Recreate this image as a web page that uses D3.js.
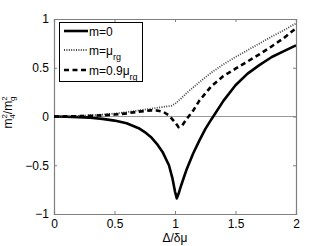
<!DOCTYPE html>
<html><head><meta charset="utf-8">
<script src="https://cdn.jsdelivr.net/npm/d3@7"></script>
<style>
body{margin:0;background:#fff;}
svg{display:block;font-family:"Liberation Sans",Arial,Helvetica,sans-serif;}
</style></head>
<body><svg id="c" width="327" height="246"></svg>
<script>
const xTicks = [0, 0.5, 1, 1.5, 2];
const yTicks = [-1, -0.5, 0, 0.5, 1];
const xTickLabels = ["0", "0.5", "1", "1.5", "2"];
const yTickLabels = ["\u22121", "\u22120.5", "0", "0.5", "1"];

const x0 = [0,0.1,0.2,0.3,0.4,0.5,0.6,0.7,0.75,0.8,0.85,0.9,0.95,0.98,1.0,1.015,1.03,1.05,1.08,1.1,1.15,1.2,1.25,1.3,1.4,1.5,1.6,1.7,1.8,1.9,2.0];
const y0 = [0,-0.002,-0.006,-0.012,-0.024,-0.042,-0.07,-0.12,-0.16,-0.21,-0.28,-0.37,-0.5,-0.64,-0.77,-0.84,-0.79,-0.71,-0.6,-0.53,-0.38,-0.25,-0.13,-0.03,0.16,0.32,0.44,0.53,0.61,0.67,0.73];

const x1 = [0,0.1,0.2,0.3,0.4,0.5,0.6,0.7,0.8,0.9,0.97,1.0,1.05,1.1,1.2,1.3,1.4,1.5,1.6,1.7,1.8,1.9,2.0];
const y1 = [0,0.002,0.006,0.012,0.02,0.03,0.045,0.062,0.08,0.098,0.11,0.13,0.185,0.245,0.35,0.45,0.535,0.61,0.68,0.75,0.82,0.885,0.955];

const x2 = [0,0.1,0.2,0.3,0.4,0.5,0.6,0.7,0.8,0.85,0.9,0.95,1.0,1.03,1.06,1.1,1.15,1.2,1.3,1.4,1.5,1.6,1.7,1.8,1.9,2.0];
const y2 = [0,0.001,0.003,0.007,0.012,0.02,0.032,0.05,0.063,0.062,0.05,0.012,-0.06,-0.11,-0.09,-0.02,0.06,0.16,0.31,0.415,0.49,0.565,0.64,0.72,0.805,0.905];

const seriesNames = ["m=0", "m=\u03bc", "m=0.9\u03bc"];
const seriesSubs = ["", "rg", "rg"];

const svg = d3.select("#c");
const L = 54, R = 296, T = 19, B = 214;
const x = d3.scaleLinear().domain([0, 2]).range([L, R]);
const y = d3.scaleLinear().domain([-1, 1]).range([B, T]);
const axisCol = "#7f7f7f";

// zero line
svg.append("line").attr("x1", x(0)).attr("x2", x(2)).attr("y1", y(0)).attr("y2", y(0))
  .attr("stroke", "#999").attr("stroke-width", 1);

const fs = "12px";
const gxB = svg.append("g").attr("transform", `translate(0,${B})`)
  .call(d3.axisBottom(x).tickValues(xTicks).tickSize(-3).tickPadding(5).tickFormat((d,i)=>xTickLabels[i]));
const gxT = svg.append("g").attr("transform", `translate(0,${T})`)
  .call(d3.axisTop(x).tickValues(xTicks).tickSize(-3).tickFormat(""));
const gyL = svg.append("g").attr("transform", `translate(${L},0)`)
  .call(d3.axisLeft(y).tickValues(yTicks).tickSize(-3).tickPadding(5).tickFormat((d,i)=>yTickLabels[i]));
const gyR = svg.append("g").attr("transform", `translate(${R},0)`)
  .call(d3.axisRight(y).tickValues(yTicks).tickSize(-3).tickFormat(""));
[gxB,gxT,gyL,gyR].forEach(g=>{
  g.select(".domain").attr("stroke", axisCol).attr("stroke-width",1.2);
  g.selectAll(".tick line").attr("stroke", axisCol);
  g.selectAll(".tick text").attr("fill","#000").style("font-size",fs).style("font-family","Liberation Sans, Arial, sans-serif");
});

const line = d3.line().x(d=>x(d[0])).y(d=>y(d[1]));
svg.append("clipPath").attr("id","clp").append("rect").attr("x",L).attr("y",T).attr("width",R-L).attr("height",B-T);
const g = svg.append("g").attr("clip-path","url(#clp)");

const styles = [
  {w:2.6, dash:null, col:"#000"},
  {w:1.8, dash:"1,1.4", col:"#444"},
  {w:2.6, dash:"5,3.5", col:"#000"}
];
const data = [d3.zip(x0,y0), d3.zip(x1,y1), d3.zip(x2,y2)];
data.forEach((d,i)=>{
  g.append("path").attr("d", line(d)).attr("fill","none").attr("stroke",styles[i].col)
    .attr("stroke-width",styles[i].w).attr("stroke-dasharray",styles[i].dash).attr("stroke-linejoin","round");
});

// legend
const lg = svg.append("g");
lg.append("rect").attr("x",59.5).attr("y",22.5).attr("width",83).attr("height",59)
  .attr("fill","#fff").attr("stroke","#000").attr("stroke-width",1);
const ly = [31, 50, 70];
seriesNames.forEach((n,i)=>{
  lg.append("line").attr("x1",64).attr("x2",88).attr("y1",ly[i]).attr("y2",ly[i])
    .attr("stroke",styles[i].col).attr("stroke-width",styles[i].w).attr("stroke-dasharray",styles[i].dash);
  const t = lg.append("text").attr("x",89).attr("y",ly[i]+4.5).style("font-size","12px");
  t.append("tspan").text(n);
  if (seriesSubs[i]) t.append("tspan").attr("dy",5).style("font-size","9px").text(seriesSubs[i]);
});

// x label
svg.append("text").attr("x", x(1)).attr("y", 242).attr("text-anchor","middle").style("font-size","12px").text("\u0394/\u03b4\u03bc");

// y label
const yl = svg.append("text").attr("transform",`translate(12,${(T+B)/2 - 4}) rotate(-90)`).attr("text-anchor","middle").style("font-size","12px");
yl.append("tspan").text("m");
yl.append("tspan").attr("dy",-5).style("font-size","8px").text("2");
yl.append("tspan").attr("dx",-4.5).attr("dy",8).style("font-size","8px").text("4");
yl.append("tspan").attr("dy",-3).text("/m");
yl.append("tspan").attr("dy",-5).style("font-size","8px").text("2");
yl.append("tspan").attr("dx",-4.5).attr("dy",8).style("font-size","8px").text("g");
</script></body></html>
